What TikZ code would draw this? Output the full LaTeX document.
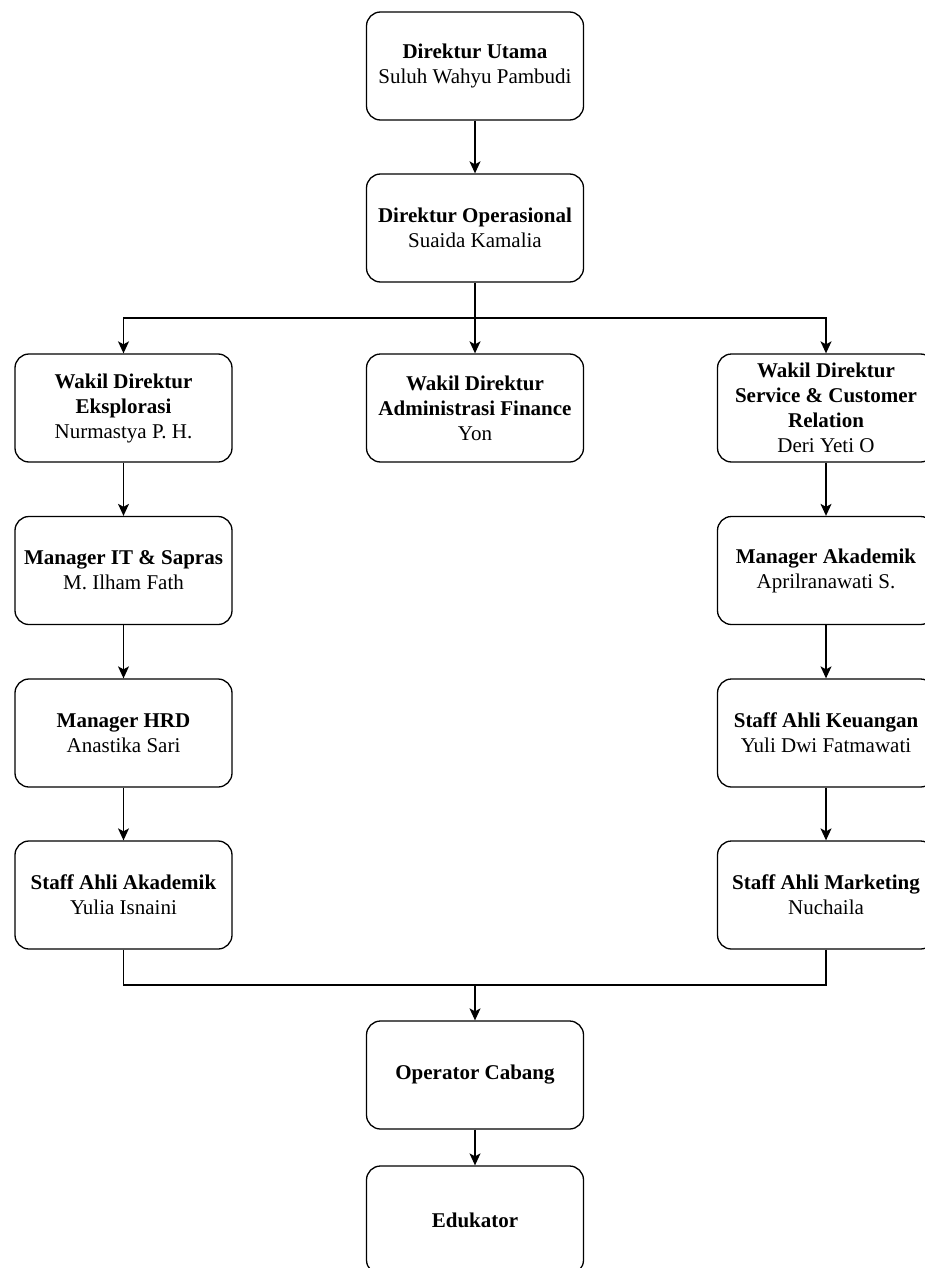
\documentclass[tikz,border=0pt]{standalone}
\usepackage{fontspec}
\setmainfont{Liberation Serif}
\usetikzlibrary{arrows.meta}
\begin{document}
\begin{tikzpicture}[x=1pt,y=-1pt,
  box/.style={draw=black, line width=1.3pt, rounded corners=14pt, fill=white,
    minimum width=217pt, minimum height=108pt, inner sep=0pt, align=center,
    font=\fontsize{21}{25}\selectfont},
  conn/.style={draw=black, line width=1.3pt},
  arr/.style={conn, -{Stealth[length=12pt,width=11pt,inset=3pt]}}]
\clip (0,0) rectangle (925,1268);
\fill[white] (0,0) rectangle (925,1268);
% nodes
\node[box] (du) at (475,66) {\textbf{Direktur Utama}\\Suluh Wahyu Pambudi};
\node[box] (do) at (475,228) {\textbf{Direktur Operasional}\\Suaida Kamalia};
\node[box] (wde) at (123.5,408) {\textbf{Wakil Direktur}\\\textbf{Eksplorasi}\\Nurmastya P. H.};
\node[box] (wda) at (475,408) {\textbf{Wakil Direktur}\\\textbf{Administrasi Finance}\\Yon};
\node[box] (wds) at (826,408) {\textbf{Wakil Direktur}\\\textbf{Service \& Customer}\\\textbf{Relation}\\Deri Yeti O};
\node[box] (mit) at (123.5,570.5) {\textbf{Manager IT \& Sapras}\\M. Ilham Fath};
\node[box] (mhrd) at (123.5,733) {\textbf{Manager HRD}\\Anastika Sari};
\node[box] (saa) at (123.5,895) {\textbf{Staff Ahli Akademik}\\Yulia Isnaini};
\node[box] (mak) at (826,570.5) {\textbf{Manager Akademik}\\Aprilranawati S.};
\node[box] (sak) at (826,733) {\textbf{Staff Ahli Keuangan}\\Yuli Dwi Fatmawati};
\node[box] (sam) at (826,895) {\textbf{Staff Ahli Marketing}\\Nuchaila};
\node[box] (op) at (475,1075) {\textbf{Operator Cabang}};
\node[box] (edu) at (475,1220) {\textbf{Edukator}};
% split coordinates
\coordinate (split) at (475,318);
\coordinate (merge) at (475,985);
% connectors
\draw[arr] (du) -- (do);
\draw[conn] (do.south) -- (split);
\draw[arr] (split) -| (wde.north);
\draw[arr] (split) -- (wda.north);
\draw[arr] (split) -| (wds.north);
\draw[arr] (wde) -- (mit);
\draw[arr] (mit) -- (mhrd);
\draw[arr] (mhrd) -- (saa);
\draw[arr] (wds) -- (mak);
\draw[arr] (mak) -- (sak);
\draw[arr] (sak) -- (sam);
\draw[conn] (saa.south) |- (merge);
\draw[conn] (sam.south) |- (merge);
\draw[arr] (merge) -- (op.north);
\draw[arr] (op) -- (edu);
\end{tikzpicture}
\end{document}
